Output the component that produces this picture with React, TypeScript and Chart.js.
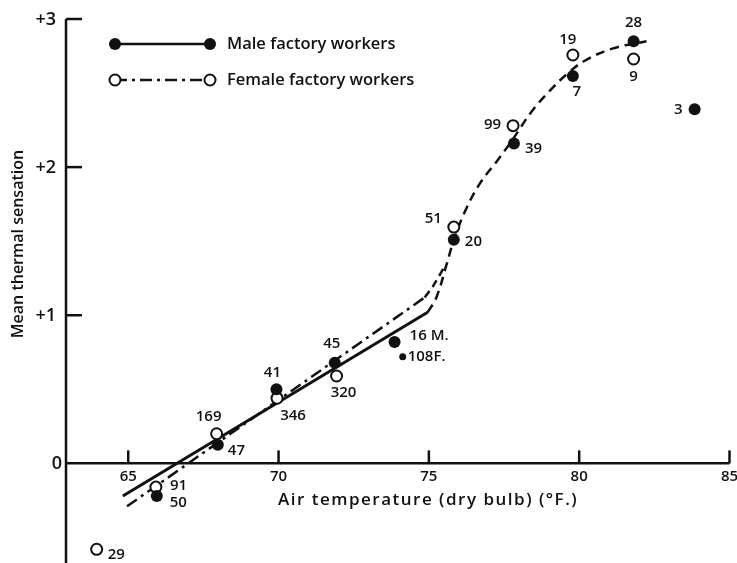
import React, { useEffect, useRef } from "react";
import { Chart, registerables } from "chart.js";

Chart.register(...registerables);

// ---- data ----
const maleTemp = [65.95, 67.98, 69.93, 71.87, 73.86, 75.83, 77.83, 79.79, 81.81, 83.84];
const maleSensation = [-0.22, 0.125, 0.5, 0.68, 0.82, 1.51, 2.16, 2.615, 2.85, 2.39];
const maleCounts = ["50", "47", "41", "45", "16 M.", "20", "39", "7", "28", "3"];

const femaleTemp = [63.95, 65.92, 67.94, 69.95, 71.93, 74.13, 75.83, 77.8, 79.79, 81.81];
const femaleSensation = [-0.58, -0.16, 0.2, 0.44, 0.59, 0.72, 1.595, 2.28, 2.757, 2.73];
const femaleCounts = ["29", "91", "169", "346", "320", "108F.", "51", "99", "19", "9"];

const maleFitTemp = [64.82, 74.96];
const maleFitSensation = [-0.22, 1.02];
const femaleFitTemp = [64.96, 74.86];
const femaleFitSensation = [-0.29, 1.12];
const femaleLinkTemp = [74.86, 75.15, 75.55];
const femaleLinkSensation = [1.12, 1.2, 1.34];
const curveTemp = [74.96, 75.25, 75.6, 75.85, 76.2, 76.7, 77.3, 77.8, 78.4, 79.0, 79.6, 80.2, 81.1, 82.24];
const curveSensation = [1.02, 1.12, 1.35, 1.52, 1.7, 1.89, 2.05, 2.19, 2.37, 2.51, 2.63, 2.72, 2.8, 2.85];

const xTicks = [65, 70, 75, 80, 85];
const yTicks = [0, 1, 2, 3];
const yTickLabels = ["0", "+1", "+2", "+3"];

const xTitle = "Air temperature (dry bulb) (\u00B0F.)";
const yTitle = "Mean thermal sensation";
const maleName = "Male factory workers";
const femaleName = "Female factory workers";

// ---- label placement (styling) ----
type Off = [number, number, CanvasTextAlign];
const maleOffsets: Off[] = [
  [13, 7, "left"], [10, 6, "left"], [-4, -17, "center"], [-3, -19, "center"],
  [15, -6, "left"], [11, 2, "left"], [11, 5, "left"], [4, 16, "center"],
  [0, -18, "center"], [-12, 0, "right"],
];
const femaleOffsets: Off[] = [
  [11, 5, "left"], [14, -1, "left"], [-8, -17, "center"], [16, 18, "center"],
  [7, 17, "center"], [5, 0, "left"], [-12, -8, "right"], [-12, -1, "right"],
  [-5, -15, "center"], [0, 18, "center"],
];

const FONT = "'Open Sans', 'DejaVu Sans', sans-serif";
const INK = "#111";

const pts = (xs: number[], ys: number[]) => xs.map((x, i) => ({ x, y: ys[i] }));

const overlay = {
  id: "overlay",
  afterDraw(chart: any) {
    const ctx: CanvasRenderingContext2D = chart.ctx;
    const xs = chart.scales.x;
    const ys = chart.scales.y;
    const area = chart.chartArea;
    ctx.save();
    ctx.strokeStyle = INK;
    ctx.fillStyle = INK;
    ctx.lineWidth = 2.5;
    ctx.setLineDash([]);
    const y0 = ys.getPixelForValue(0);
    const left = area.left;
    // y axis
    ctx.beginPath();
    ctx.moveTo(left, ys.getPixelForValue(3));
    ctx.lineTo(left, chart.height);
    ctx.stroke();
    // x axis
    ctx.beginPath();
    ctx.moveTo(left, y0);
    ctx.lineTo(xs.getPixelForValue(85), y0);
    ctx.stroke();
    // x ticks
    ctx.font = `600 15px ${FONT}`;
    ctx.textAlign = "center";
    ctx.textBaseline = "middle";
    xTicks.forEach((t) => {
      const px = xs.getPixelForValue(t);
      ctx.beginPath();
      ctx.moveTo(px, y0);
      ctx.lineTo(px, y0 - 13);
      ctx.stroke();
      ctx.fillText(String(t), px, y0 + 13);
    });
    // y ticks
    ctx.font = `600 18px ${FONT}`;
    ctx.textAlign = "right";
    yTicks.forEach((t, i) => {
      const py = ys.getPixelForValue(t);
      if (t !== 0) {
        ctx.beginPath();
        ctx.moveTo(left, py);
        ctx.lineTo(left + 16, py);
        ctx.stroke();
      }
      ctx.fillText(yTickLabels[i], t === 0 ? left - 4 : left - 10, py + 1);
    });
    // axis titles
    ctx.font = `600 17px ${FONT}`;
    ctx.textAlign = "left";
    (ctx as any).letterSpacing = "1.5px";
    ctx.fillText(xTitle, 278, y0 + 37);
    (ctx as any).letterSpacing = "0px";
    ctx.save();
    ctx.translate(18, 244);
    ctx.rotate(-Math.PI / 2);
    ctx.textAlign = "center";
    ctx.font = `600 16px ${FONT}`;
    ctx.fillText(yTitle, 0, 0);
    ctx.restore();
    // point labels
    ctx.font = `600 15px ${FONT}`;
    const drawLabels = (xv: number[], yv: number[], labels: string[], offs: Off[]) => {
      labels.forEach((lab, i) => {
        const px = xs.getPixelForValue(xv[i]);
        const py = ys.getPixelForValue(yv[i]);
        ctx.textAlign = offs[i][2];
        ctx.fillText(lab, px + offs[i][0], py + offs[i][1]);
      });
    };
    drawLabels(maleTemp, maleSensation, maleCounts, maleOffsets);
    drawLabels(femaleTemp, femaleSensation, femaleCounts, femaleOffsets);
    // legend
    const drawLegend = (y: number, filled: boolean, dash: number[], name: string) => {
      ctx.lineWidth = 2.5;
      ctx.setLineDash(dash);
      ctx.beginPath();
      ctx.moveTo(115, y);
      ctx.lineTo(210, y);
      ctx.stroke();
      ctx.setLineDash([]);
      [115, 210].forEach((cx) => {
        ctx.beginPath();
        ctx.arc(cx, y, filled ? 6 : 5.5, 0, Math.PI * 2);
        if (filled) {
          ctx.fill();
        } else {
          ctx.fillStyle = "#fff";
          ctx.fill();
          ctx.fillStyle = INK;
          ctx.lineWidth = 2;
          ctx.stroke();
        }
      });
      ctx.textAlign = "left";
      ctx.font = `600 16.5px ${FONT}`;
      ctx.fillText(name, 227, y);
    };
    drawLegend(44, true, [], maleName);
    drawLegend(80, false, [12, 5, 3, 5], femaleName);
    ctx.restore();
  },
};

export default function App() {
  const ref = useRef<HTMLCanvasElement | null>(null);
  useEffect(() => {
    if (!ref.current) return;
    const femaleRadius = femaleCounts.map((c) => (c === "108F." ? 2.5 : 5.5));
    const femaleFill = femaleCounts.map((c) => (c === "108F." ? INK : "#fff"));
    const chart = new Chart(ref.current, {
      type: "scatter",
      data: {
        datasets: [
          {
            label: "Male",
            data: pts(maleTemp, maleSensation),
            backgroundColor: INK,
            borderColor: INK,
            pointRadius: 6,
            borderWidth: 0,
            clip: false,
          } as any,
          {
            label: "Female",
            data: pts(femaleTemp, femaleSensation),
            backgroundColor: femaleFill,
            borderColor: INK,
            pointRadius: femaleRadius,
            pointBorderWidth: 2,
            clip: false,
          } as any,
          {
            label: "Male fit",
            data: pts(maleFitTemp, maleFitSensation),
            showLine: true,
            borderColor: INK,
            borderWidth: 3,
            pointRadius: 0,
            clip: false,
          } as any,
          {
            label: "Female fit",
            data: pts(femaleFitTemp, femaleFitSensation),
            showLine: true,
            borderColor: INK,
            borderWidth: 2.5,
            borderDash: [12, 5, 3, 5],
            pointRadius: 0,
            clip: false,
          } as any,
          {
            label: "Female link",
            data: pts(femaleLinkTemp, femaleLinkSensation),
            showLine: true,
            borderColor: INK,
            borderWidth: 2.5,
            borderDash: [8, 5],
            tension: 0.3,
            pointRadius: 0,
            clip: false,
          } as any,
          {
            label: "Curve",
            data: pts(curveTemp, curveSensation),
            showLine: true,
            borderColor: INK,
            borderWidth: 2.5,
            borderDash: [9, 6],
            tension: 0.4,
            pointRadius: 0,
            clip: false,
          } as any,
        ],
      },
      options: {
        responsive: false,
        animation: false,
        devicePixelRatio: 1,
        layout: { padding: { left: 66, right: 7, top: 19, bottom: 0 } },
        scales: {
          x: { type: "linear", min: 62.93, max: 85, display: false },
          y: { type: "linear", min: -0.622, max: 3, display: false },
        },
        plugins: { legend: { display: false }, tooltip: { enabled: false } },
      },
      plugins: [overlay],
    });
    return () => chart.destroy();
  }, []);
  return (
    <div style={{ position: "fixed", left: 0, top: 0, width: 737, height: 563, background: "#fff" }}>
      <canvas ref={ref} width={737} height={563} style={{ display: "block" }} />
    </div>
  );
}
